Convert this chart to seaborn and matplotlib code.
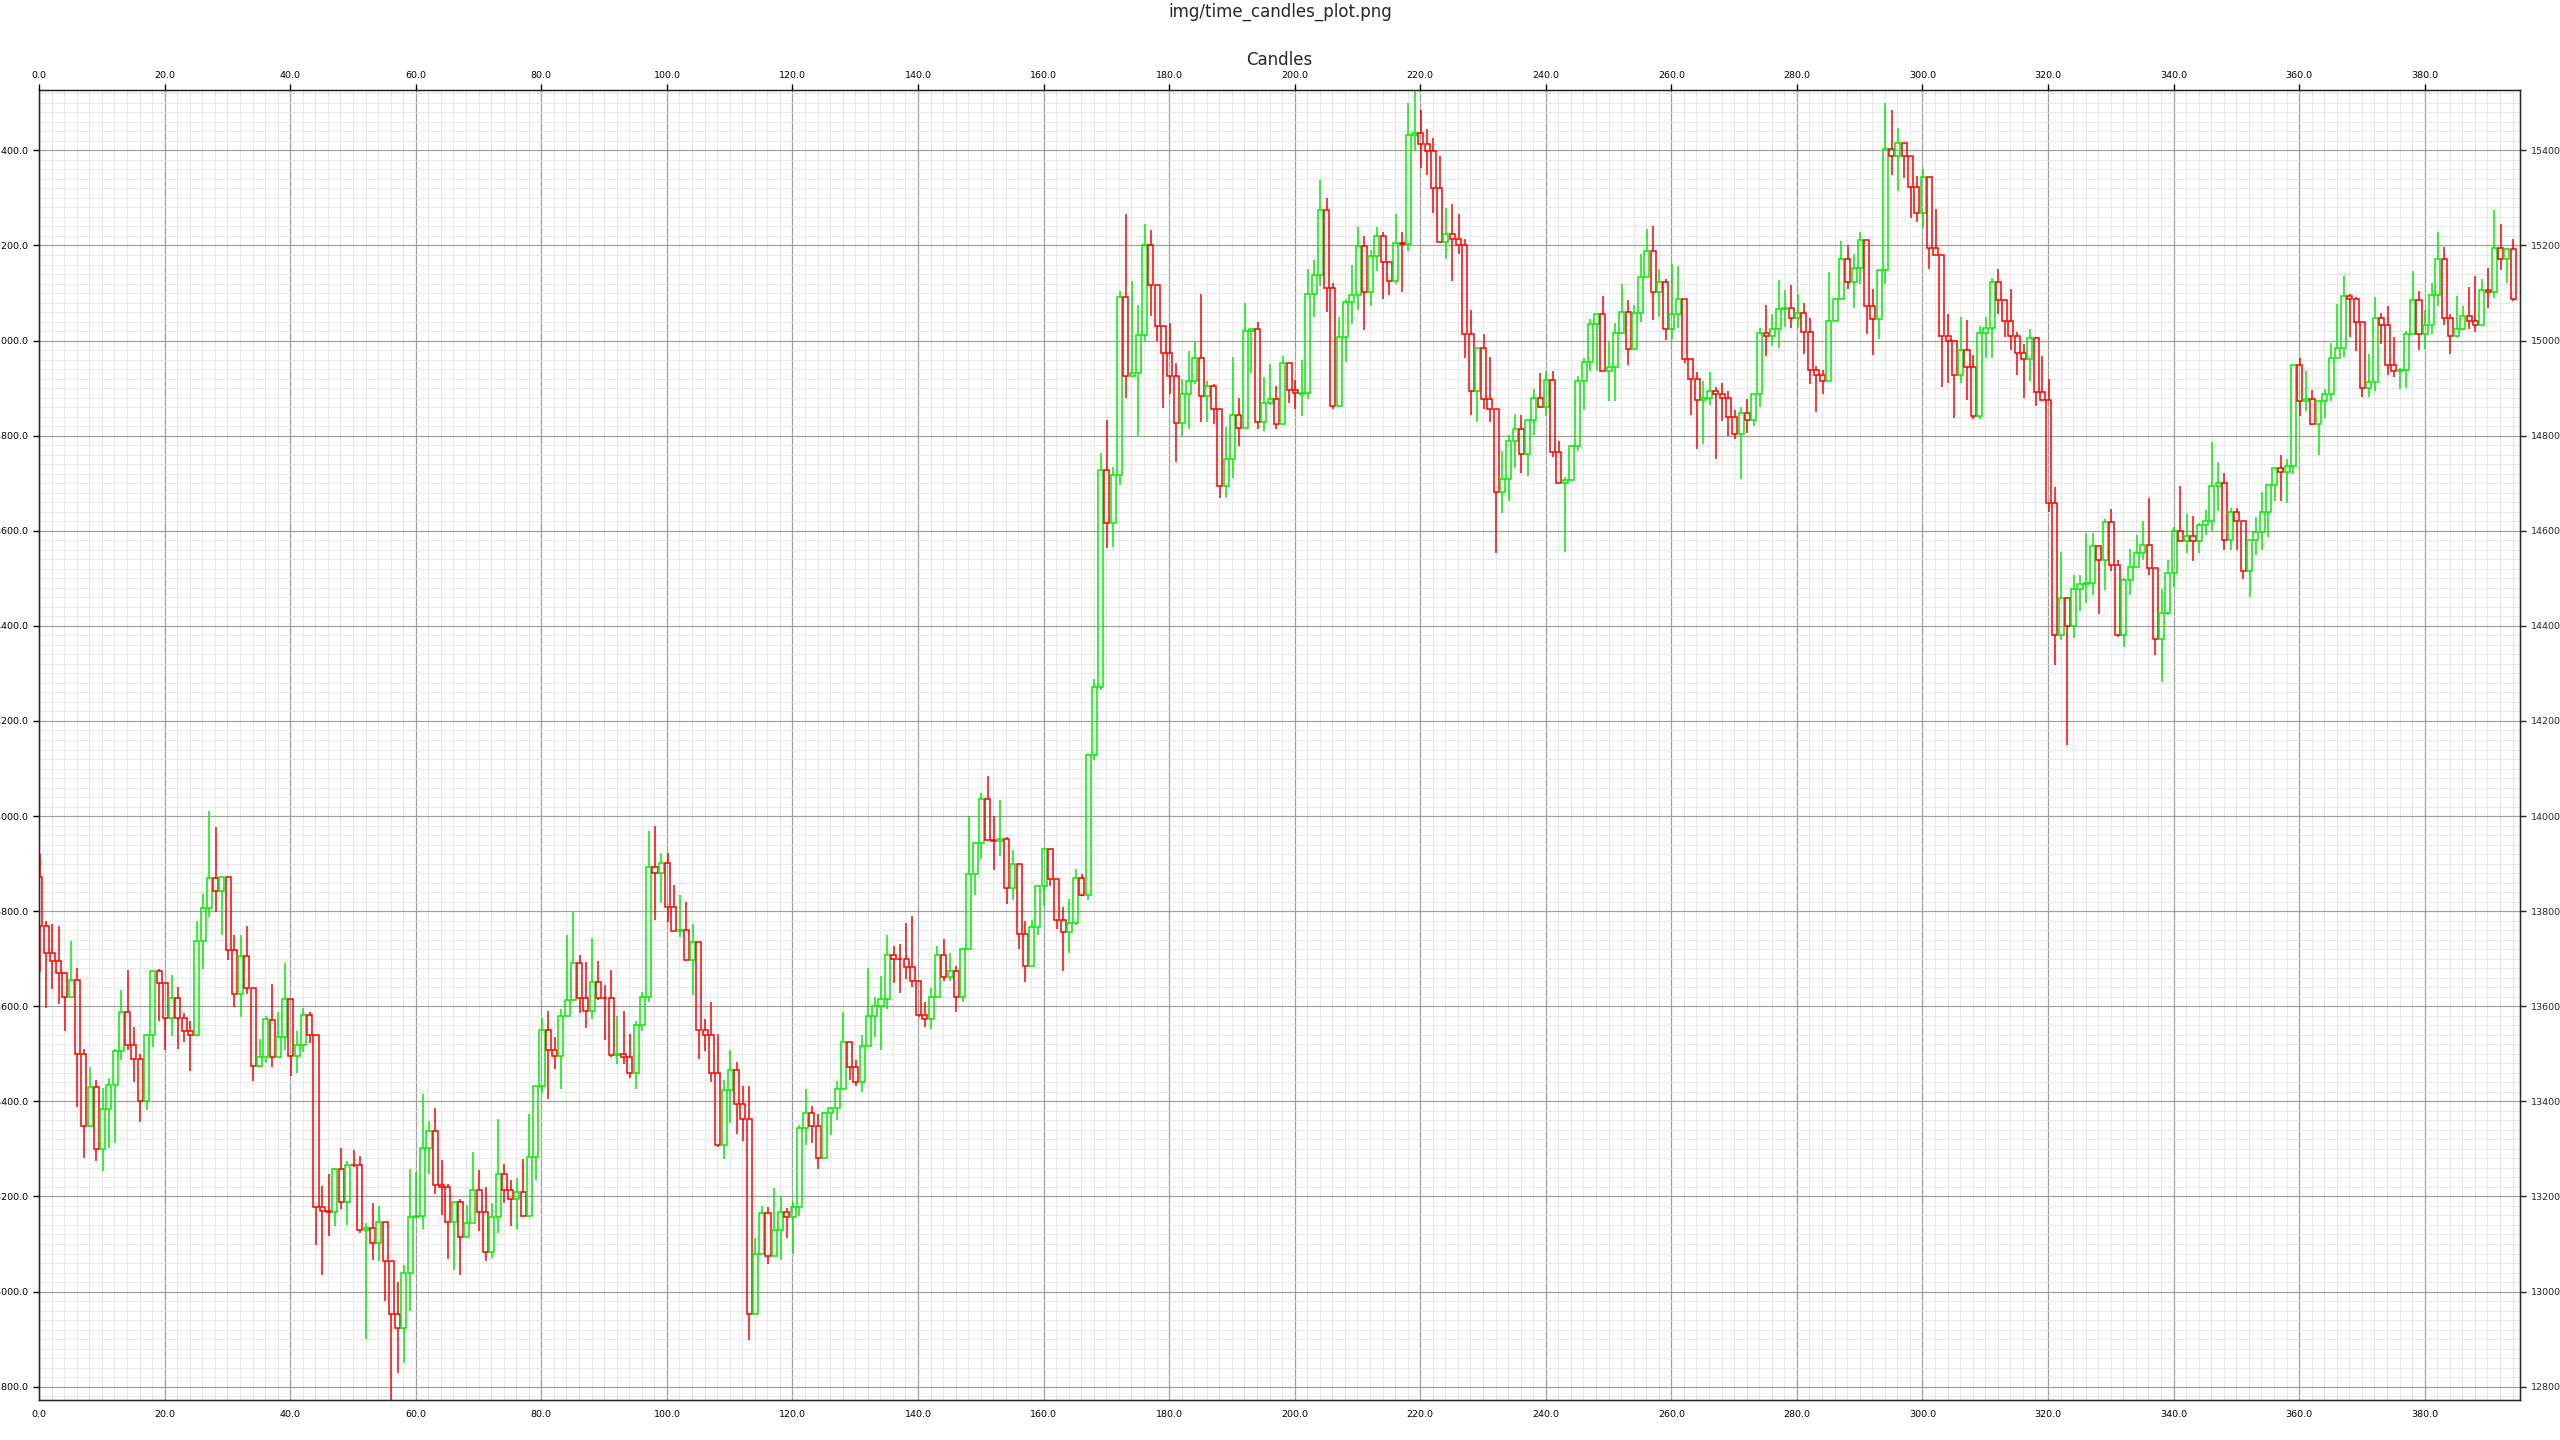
import matplotlib
matplotlib.use("Agg")
import matplotlib.pyplot as plt
import numpy as np
import pandas as pd
import seaborn as sns
from matplotlib.ticker import MultipleLocator, FormatStrFormatter

# candle data, one entry per bar (index 0..394)
opens = [
    13871, 13769, 13713, 13695, 13669, 13619, 13655, 13499, 13348, 13430,
    13300, 13384, 13434, 13505, 13587, 13518, 13489, 13400, 13539, 13674,
    13648, 13575, 13617, 13575, 13547, 13539, 13737, 13806, 13869, 13842,
    13871, 13718, 13626, 13705, 13638, 13474, 13494, 13572, 13494, 13536,
    13616, 13496, 13519, 13582, 13540, 13178, 13170, 13168, 13258, 13189,
    13267, 13266, 13130, 13134, 13102, 13147, 13065, 12953, 12923, 13038,
    13157, 13159, 13302, 13338, 13225, 13220, 13147, 13189, 13115, 13145,
    13213, 13168, 13083, 13157, 13248, 13213, 13195, 13210, 13159, 13283,
    13433, 13551, 13509, 13496, 13580, 13614, 13692, 13618, 13589, 13650,
    13618, 13617, 13498, 13500, 13494, 13460, 13561, 13620, 13892, 13881,
    13902, 13808, 13759, 13760, 13698, 13736, 13550, 13539, 13459, 13309,
    13423, 13467, 13394, 13362, 12952, 13080, 13166, 13074, 13130, 13168,
    13156, 13177, 13343, 13375, 13349, 13280, 13375, 13385, 13425, 13524,
    13472, 13440, 13516, 13579, 13601, 13615, 13708, 13700, 13700, 13682,
    13653, 13581, 13573, 13619, 13707, 13662, 13674, 13619, 13720, 13878,
    13943, 14036, 13949, 13947, 13952, 13848, 13899, 13752, 13684, 13767,
    13853, 13931, 13868, 13781, 13756, 13775, 13870, 13834, 14128, 14271,
    14727, 14617, 14717, 15092, 14926, 14931, 15011, 15200, 15117, 15031,
    14974, 14926, 14827, 14888, 14915, 14963, 14883, 14904, 14856, 14694,
    14751, 14843, 14816, 15020, 15024, 14828, 14868, 14878, 14825, 14953,
    14897, 14888, 14890, 15099, 15137, 15274, 15111, 14862, 15008, 15081,
    15096, 15198, 15102, 15178, 15219, 15166, 15126, 15206, 15204, 15433,
    15437, 15414, 15398, 15321, 15208, 15225, 15214, 15201, 15014, 14894,
    14985, 14877, 14856, 14681, 14709, 14789, 14814, 14762, 14832, 14880,
    14861, 14918, 14766, 14701, 14707, 14779, 14916, 14954, 15034, 15055,
    14935, 14945, 15015, 15061, 14983, 15059, 15133, 15189, 15103, 15124,
    15025, 15055, 15088, 14962, 14920, 14876, 14880, 14895, 14887, 14880,
    14840, 14804, 14848, 14832, 14888, 15016, 15010, 15025, 15067, 15069,
    15048, 15057, 15017, 14939, 14928, 14916, 15042, 15088, 15171, 15124,
    15152, 15211, 15072, 15046, 15149, 15402, 15389, 15415, 15389, 15324,
    15269, 15345, 15194, 15181, 15010, 15000, 14928, 14981, 14945, 14842,
    15015, 15026, 15124, 15086, 15042, 15009, 14973, 14962, 15005, 14891,
    14876, 14659, 14381, 14459, 14400, 14478, 14489, 14490, 14567, 14539,
    14618, 14529, 14381, 14497, 14524, 14554, 14571, 14522, 14373, 14428,
    14512, 14600, 14578, 14589, 14578, 14612, 14620, 14695, 14700, 14580,
    14639, 14620, 14515, 14580, 14598, 14639, 14696, 14732, 14723, 14736,
    14949, 14873, 14877, 14824, 14873, 14888, 14963, 14985, 15094, 15088,
    15039, 14900, 14913, 15048, 15033, 14949, 14936, 14938, 15014, 15086,
    15014, 15033, 15096, 15172, 15048, 15010, 15025, 15052, 15041, 15033,
    15107, 15102, 15195, 15172, 15193,
]
highs = [
    13920, 13779, 13772, 13769, 13669, 13737, 13680, 13510, 13473, 13445,
    13429, 13450, 13510, 13634, 13676, 13556, 13500, 13539, 13674, 13678,
    13648, 13666, 13641, 13586, 13568, 13779, 13836, 14011, 13978, 13871,
    13871, 13750, 13749, 13769, 13638, 13531, 13580, 13646, 13587, 13690,
    13616, 13549, 13597, 13587, 13540, 13221, 13248, 13260, 13301, 13274,
    13297, 13286, 13144, 13186, 13180, 13147, 13065, 13020, 13055, 13258,
    13251, 13415, 13358, 13385, 13276, 13227, 13189, 13194, 13183, 13293,
    13255, 13220, 13187, 13363, 13269, 13234, 13238, 13278, 13374, 13433,
    13576, 13589, 13535, 13595, 13750, 13799, 13707, 13693, 13743, 13695,
    13644, 13676, 13579, 13589, 13541, 13570, 13629, 13968, 13979, 13922,
    13922, 13855, 13835, 13819, 13774, 13736, 13573, 13609, 13541, 13445,
    13508, 13483, 13432, 13432, 13112, 13180, 13177, 13218, 13200, 13176,
    13189, 13350, 13425, 13390, 13373, 13378, 13389, 13442, 13588, 13524,
    13487, 13540, 13680, 13619, 13664, 13750, 13727, 13731, 13775, 13790,
    13653, 13608, 13639, 13727, 13741, 13712, 13685, 13723, 14000, 13943,
    14048, 14085, 14001, 14034, 13956, 13928, 13899, 13779, 13782, 13855,
    13931, 13931, 13868, 13809, 13826, 13889, 13878, 14130, 14288, 14763,
    14833, 14735, 15104, 15267, 15126, 15075, 15246, 15233, 15117, 15031,
    15038, 14953, 14919, 14979, 14998, 15099, 14916, 14908, 14856, 14818,
    14966, 14880, 15079, 15024, 15040, 14924, 14951, 14904, 14968, 14953,
    14918, 14959, 15151, 15169, 15337, 15299, 15121, 15050, 15088, 15158,
    15238, 15220, 15191, 15238, 15229, 15166, 15267, 15229, 15500, 15527,
    15484, 15444, 15427, 15389, 15278, 15288, 15267, 15213, 15065, 14985,
    15013, 14966, 14856, 14768, 14801, 14846, 14843, 14832, 14898, 14932,
    14937, 14937, 14788, 14714, 14779, 14925, 14963, 15045, 15055, 15093,
    14999, 15036, 15119, 15085, 15074, 15182, 15234, 15241, 15150, 15129,
    15161, 15156, 15088, 14962, 14933, 14916, 14933, 14902, 14910, 14893,
    14855, 14861, 14878, 14888, 15027, 15074, 15055, 15128, 15107, 15116,
    15098, 15079, 15048, 14946, 14939, 15144, 15090, 15209, 15201, 15182,
    15229, 15211, 15109, 15149, 15500, 15485, 15447, 15415, 15389, 15347,
    15360, 15345, 15276, 15181, 15055, 15000, 15049, 15043, 14970, 15030,
    15049, 15131, 15150, 15086, 15108, 15017, 14993, 15024, 15007, 14967,
    14919, 14693, 14556, 14459, 14506, 14508, 14596, 14596, 14567, 14624,
    14645, 14538, 14501, 14561, 14592, 14620, 14668, 14522, 14478, 14539,
    14608, 14695, 14636, 14632, 14616, 14644, 14787, 14745, 14722, 14648,
    14648, 14620, 14580, 14629, 14681, 14696, 14732, 14760, 14751, 14949,
    14963, 14936, 14896, 14873, 14898, 14994, 15076, 15136, 15098, 15092,
    15039, 14971, 15092, 15058, 15073, 15008, 14942, 15020, 15147, 15105,
    15065, 15122, 15229, 15197, 15056, 15094, 15073, 15112, 15136, 15130,
    15153, 15274, 15246, 15195, 15214,
]
lows = [
    13673, 13596, 13636, 13604, 13549, 13619, 13389, 13281, 13348, 13274,
    13253, 13302, 13312, 13486, 13509, 13440, 13356, 13381, 13515, 13568,
    13507, 13538, 13511, 13524, 13463, 13539, 13678, 13788, 13799, 13749,
    13698, 13599, 13578, 13626, 13442, 13472, 13480, 13472, 13494, 13509,
    13453, 13460, 13504, 13523, 13097, 13035, 13116, 13138, 13173, 13139,
    13262, 13123, 12900, 13067, 13065, 12980, 12772, 12828, 12849, 12959,
    13155, 13131, 13248, 13205, 13160, 13068, 13046, 13034, 13115, 13145,
    13127, 13065, 13071, 13123, 13187, 13137, 13131, 13159, 13159, 13235,
    13418, 13405, 13468, 13426, 13580, 13614, 13585, 13554, 13573, 13614,
    13530, 13493, 13479, 13478, 13449, 13425, 13549, 13608, 13782, 13818,
    13778, 13759, 13746, 13698, 13624, 13489, 13505, 13441, 13305, 13279,
    13355, 13332, 13317, 12898, 12952, 13080, 13059, 13074, 13067, 13112,
    13080, 13159, 13308, 13313, 13257, 13280, 13329, 13361, 13425, 13445,
    13433, 13420, 13516, 13535, 13509, 13594, 13648, 13627, 13658, 13641,
    13578, 13557, 13552, 13619, 13654, 13654, 13587, 13608, 13720, 13835,
    13909, 13949, 13886, 13917, 13816, 13823, 13721, 13650, 13684, 13749,
    13810, 13852, 13763, 13674, 13713, 13770, 13831, 13823, 14117, 14266,
    14563, 14566, 14697, 14879, 14924, 14799, 14999, 15052, 14999, 14858,
    14888, 14745, 14799, 14814, 14908, 14828, 14828, 14824, 14668, 14668,
    14712, 14778, 14816, 14931, 14813, 14809, 14865, 14815, 14825, 14869,
    14856, 14841, 14878, 15049, 15115, 15060, 14857, 14862, 14954, 15034,
    15064, 15022, 15072, 15146, 15087, 15095, 15120, 15102, 15189, 15399,
    15364, 15348, 15268, 15208, 15171, 15125, 15183, 14963, 14843, 14828,
    14857, 14828, 14553, 14637, 14662, 14732, 14721, 14715, 14801, 14858,
    14841, 14755, 14701, 14556, 14707, 14768, 14854, 14936, 14936, 14935,
    14873, 14873, 15015, 14949, 14983, 15039, 15133, 15043, 15050, 15001,
    15003, 15027, 14952, 14843, 14773, 14782, 14865, 14752, 14831, 14799,
    14792, 14709, 14806, 14820, 14861, 14968, 14989, 14985, 15029, 15027,
    15027, 14972, 14909, 14850, 14888, 14916, 15042, 15088, 15109, 15069,
    15120, 15014, 14970, 15004, 15118, 15349, 15315, 15342, 15258, 15250,
    15236, 15151, 15181, 14902, 14910, 14837, 14911, 14875, 14836, 14836,
    14963, 14963, 15055, 15007, 14980, 14928, 14879, 14915, 14862, 14876,
    14640, 14318, 14370, 14149, 14375, 14431, 14448, 14465, 14425, 14476,
    14515, 14377, 14356, 14465, 14524, 14538, 14507, 14339, 14282, 14423,
    14481, 14578, 14554, 14537, 14554, 14592, 14599, 14641, 14559, 14559,
    14559, 14498, 14460, 14549, 14559, 14586, 14662, 14662, 14658, 14719,
    14841, 14851, 14822, 14759, 14837, 14873, 14963, 14966, 15008, 14978,
    14881, 14881, 14894, 14993, 14928, 14923, 14898, 14900, 15014, 14980,
    14982, 15014, 15073, 15033, 14972, 15008, 15022, 15025, 15018, 15033,
    15069, 15090, 15149, 15121, 15083,
]
closes = [
    13769, 13713, 13695, 13669, 13619, 13655, 13499, 13348, 13430, 13300,
    13384, 13434, 13505, 13587, 13518, 13489, 13400, 13539, 13674, 13648,
    13575, 13617, 13575, 13547, 13539, 13737, 13806, 13869, 13842, 13871,
    13718, 13626, 13705, 13638, 13474, 13494, 13573, 13494, 13536, 13616,
    13496, 13519, 13582, 13540, 13178, 13170, 13168, 13258, 13189, 13267,
    13266, 13130, 13134, 13102, 13147, 13065, 12953, 12923, 13038, 13157,
    13159, 13302, 13338, 13225, 13220, 13147, 13189, 13115, 13145, 13213,
    13168, 13083, 13157, 13248, 13213, 13195, 13210, 13159, 13283, 13433,
    13551, 13509, 13496, 13580, 13614, 13692, 13618, 13589, 13650, 13618,
    13617, 13498, 13500, 13494, 13460, 13561, 13620, 13892, 13881, 13902,
    13808, 13759, 13760, 13698, 13736, 13550, 13539, 13459, 13309, 13423,
    13467, 13394, 13362, 12952, 13080, 13166, 13074, 13130, 13168, 13156,
    13177, 13343, 13375, 13349, 13280, 13375, 13385, 13425, 13524, 13472,
    13440, 13516, 13579, 13601, 13615, 13708, 13700, 13699, 13682, 13653,
    13581, 13573, 13619, 13707, 13662, 13674, 13619, 13720, 13878, 13943,
    14036, 13949, 13947, 13952, 13848, 13899, 13752, 13684, 13767, 13853,
    13931, 13868, 13781, 13756, 13775, 13870, 13834, 14128, 14271, 14727,
    14617, 14717, 15092, 14926, 14931, 15011, 15200, 15117, 15031, 14974,
    14926, 14827, 14888, 14915, 14963, 14883, 14904, 14856, 14694, 14751,
    14843, 14816, 15020, 15024, 14828, 14868, 14878, 14825, 14953, 14897,
    14890, 14890, 15099, 15137, 15274, 15111, 14862, 15008, 15081, 15096,
    15198, 15102, 15178, 15219, 15166, 15126, 15206, 15204, 15433, 15437,
    15414, 15398, 15321, 15208, 15225, 15214, 15201, 15014, 14894, 14985,
    14877, 14856, 14681, 14709, 14789, 14814, 14762, 14832, 14880, 14861,
    14918, 14766, 14701, 14707, 14779, 14916, 14954, 15034, 15055, 14935,
    14945, 15015, 15061, 14983, 15059, 15133, 15189, 15103, 15124, 15025,
    15055, 15088, 14962, 14920, 14876, 14880, 14895, 14887, 14880, 14840,
    14804, 14848, 14832, 14888, 15016, 15010, 15025, 15067, 15069, 15048,
    15057, 15017, 14939, 14928, 14916, 15042, 15088, 15171, 15124, 15152,
    15211, 15072, 15046, 15149, 15402, 15389, 15415, 15389, 15324, 15269,
    15345, 15194, 15181, 15010, 15000, 14928, 14981, 14945, 14842, 15015,
    15026, 15124, 15086, 15042, 15009, 14973, 14962, 15005, 14891, 14876,
    14659, 14381, 14459, 14400, 14478, 14489, 14490, 14567, 14539, 14618,
    14529, 14381, 14497, 14524, 14554, 14571, 14522, 14373, 14428, 14512,
    14600, 14578, 14589, 14578, 14612, 14620, 14695, 14700, 14580, 14639,
    14620, 14515, 14580, 14598, 14639, 14696, 14732, 14723, 14736, 14949,
    14873, 14877, 14824, 14873, 14888, 14963, 14985, 15094, 15088, 15039,
    14900, 14913, 15048, 15033, 14949, 14936, 14938, 15014, 15086, 15014,
    15033, 15096, 15172, 15048, 15010, 15025, 15052, 15041, 15033, 15107,
    15102, 15195, 15172, 15193, 15088,
]

UP = "#00ee00"
DOWN = "#ff0000"

sns.set_style("white")

df = pd.DataFrame({"open": opens, "high": highs, "low": lows, "close": closes})
df["x"] = np.arange(len(df)) + 0.1
df["top"] = df[["open", "close"]].max(axis=1)
df["bot"] = df[["open", "close"]].min(axis=1)
colors = np.where(df["close"] >= df["open"], UP, DOWN)

fig = plt.figure(figsize=(25.6, 14.4), dpi=100)
ax = fig.add_axes([0.0153, 0.0278, 0.9691, 0.9097])

# wicks above and below the hollow bodies
ax.vlines(df["x"], df["top"], df["high"], colors=colors, linewidth=1.1, zorder=3)
ax.vlines(df["x"], df["low"], df["bot"], colors=colors, linewidth=1.1, zorder=3)
ax.bar(df["x"], df["top"] - df["bot"], bottom=df["bot"], width=0.8,
       fill=False, edgecolor=colors, linewidth=1.1, zorder=3)

ax.set_xlim(0, 395.2)
ax.set_ylim(12772, 15527)

ax.xaxis.set_major_locator(MultipleLocator(20))
ax.xaxis.set_minor_locator(MultipleLocator(2))
ax.yaxis.set_major_locator(MultipleLocator(200))
ax.yaxis.set_minor_locator(MultipleLocator(20))
ax.xaxis.set_major_formatter(FormatStrFormatter("%.1f"))
ax.yaxis.set_major_formatter(FormatStrFormatter("%.1f"))

ax.grid(which="major", color="#a0a0a0", linewidth=0.9, zorder=0)
ax.grid(which="minor", color="#e4e4e4", linewidth=0.6, zorder=0)
ax.set_axisbelow(True)

ax.tick_params(axis="both", which="major", direction="out", length=4,
               width=1, labelsize=6.8, colors="black")
ax.tick_params(axis="x", which="major", top=True, labeltop=True)
ax.tick_params(which="minor", length=0)
for sp in ax.spines.values():
    sp.set_color("black")
    sp.set_linewidth(1)

ax2 = ax.twinx()
ax2.set_ylim(ax.get_ylim())
ax2.yaxis.set_major_locator(MultipleLocator(200))
ax2.yaxis.set_major_formatter(FormatStrFormatter("%d"))
ax2.tick_params(axis="y", direction="out", length=4, width=1, labelsize=6.8)
ax2.grid(False)

ax.set_title("Candles", fontsize=12, pad=4)
fig.suptitle("img/time_candles_plot.png", fontsize=12, y=0.998)

fig.savefig("out.png", dpi=100)
